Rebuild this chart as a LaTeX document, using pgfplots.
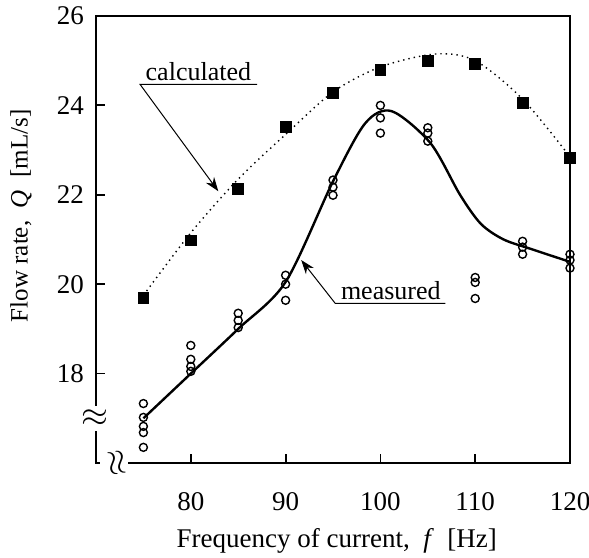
\documentclass[border=0pt]{standalone}
\usepackage{pgfplots}
\pgfplotsset{compat=1.18}
\usepackage{fontspec}
\setmainfont{Liberation Serif}
\usetikzlibrary{arrows.meta}

\begin{document}
\begin{tikzpicture}
\begin{axis}[
  name=ax,
  scale only axis,
  width=237pt, height=223.5pt,
  xmin=70, xmax=120, ymin=16, ymax=26,
  xtick={80,90,100,110,120},
  ytick={18,20,22,24,26},
  xtick pos=left, ytick pos=left,
  tick align=inside,
  major tick length=4.5pt,
  axis line style={line width=1pt},
  every tick/.style={line width=0.9pt, black},
  tick label style={font=\fontsize{13.5}{16}\selectfont},
  xticklabel style={yshift=-11pt},
  yticklabel style={xshift=-2.5pt},
  /pgf/number format/assume math mode=true,
  clip=false,
  xlabel={Frequency of current,\enspace\textit{f}\enspace[Hz]},
  ylabel={Flow rate,\enspace\textit{Q}\enspace[mL/s]},
  every axis x label/.style={at={(axis description cs:0.508,-0.1745)}, anchor=center, font=\fontsize{13.5}{16}\selectfont},
  every axis y label/.style={at={(axis description cs:-0.158,0.553)}, anchor=center, rotate=90, font=\fontsize{12.5}{15}\selectfont},
]

% calculated: fitted dotted curve
\addplot[black, dotted, line width=0.7pt, smooth, mark=none] coordinates {
  (75,19.75) (80,21.15) (85,22.35) (90,23.35) (95,24.3) (100,24.86)
  (105.8,25.15) (110,25.0) (115,24.14) (120,22.85)
};
% calculated points
\addplot[only marks, mark=square*, mark size=2.7pt, black] coordinates {
  (75,19.7) (80,20.98) (85,22.13) (90,23.51) (95,24.28) (100,24.79)
  (105,24.99) (110,24.92) (115,24.05) (120,22.82)
};

% measured: fitted solid curve
\addplot[black, line width=1.2pt, smooth, mark=none] coordinates {
  (75,17.0) (80,18.0) (85,19.0) (90,20.05) (95,22.3) (98.4,23.6)
  (101.2,23.87) (105.3,23.15) (108.4,22.0) (110.6,21.35) (113,21.0) (116,20.78) (120,20.5)
};
% measured points
\addplot[only marks, mark=o, mark size=2pt, mark options={line width=0.7pt, fill=white}, black] coordinates {
  (75,17.33) (75,17.02) (75,16.82) (75,16.68) (75,16.35)
  (80,18.63) (80,18.32) (80,18.16) (80,18.05)
  (85,19.35) (85,19.19) (85,19.03)
  (90,20.2) (90,20.0) (90,19.64)
  (95,22.33) (95,22.17) (95,21.99)
  (100,24.0) (100,23.72) (100,23.38)
  (105,23.5) (105,23.38) (105,23.2)
  (110,20.15) (110,20.04) (110,19.68)
  (115,20.96) (115,20.83) (115,20.67)
  (120,20.67) (120,20.54) (120,20.36)
};

% axis breaks
\fill[white] (axis cs:69.6,16.72) rectangle (axis cs:70.4,17.27);
\fill[white] (axis cs:70.42,15.9) rectangle (axis cs:73.38,16.1);
\node[font=\fontsize{18}{20}\selectfont] at (axis cs:69.9,17.0) {$\approx$};
\node[font=\fontsize{18}{20}\selectfont, rotate=100] at (axis cs:72.3,16.0) {$\approx$};

% annotations
\draw[line width=0.5pt, -{Stealth[length=7pt,width=5pt]}]
  (axis cs:87.0,24.47) -- (axis cs:74.65,24.47) -- (axis cs:82.9,22.08);
\node[anchor=base, font=\fontsize{13}{16}\selectfont] at (axis cs:80.8,24.56) {calculated};
\draw[line width=0.5pt, -{Stealth[length=7pt,width=5pt]}]
  (axis cs:106.85,19.57) -- (axis cs:95.24,19.57) -- (axis cs:91.65,20.54);
\node[anchor=base, font=\fontsize{13}{16}\selectfont] at (axis cs:101.1,19.66) {measured};
\end{axis}
\pgfresetboundingbox
\path[use as bounding box] ([xshift=-48pt,yshift=-47pt]ax.south west) rectangle ([xshift=9.5pt,yshift=8pt]ax.north east);
\end{tikzpicture}
\end{document}
